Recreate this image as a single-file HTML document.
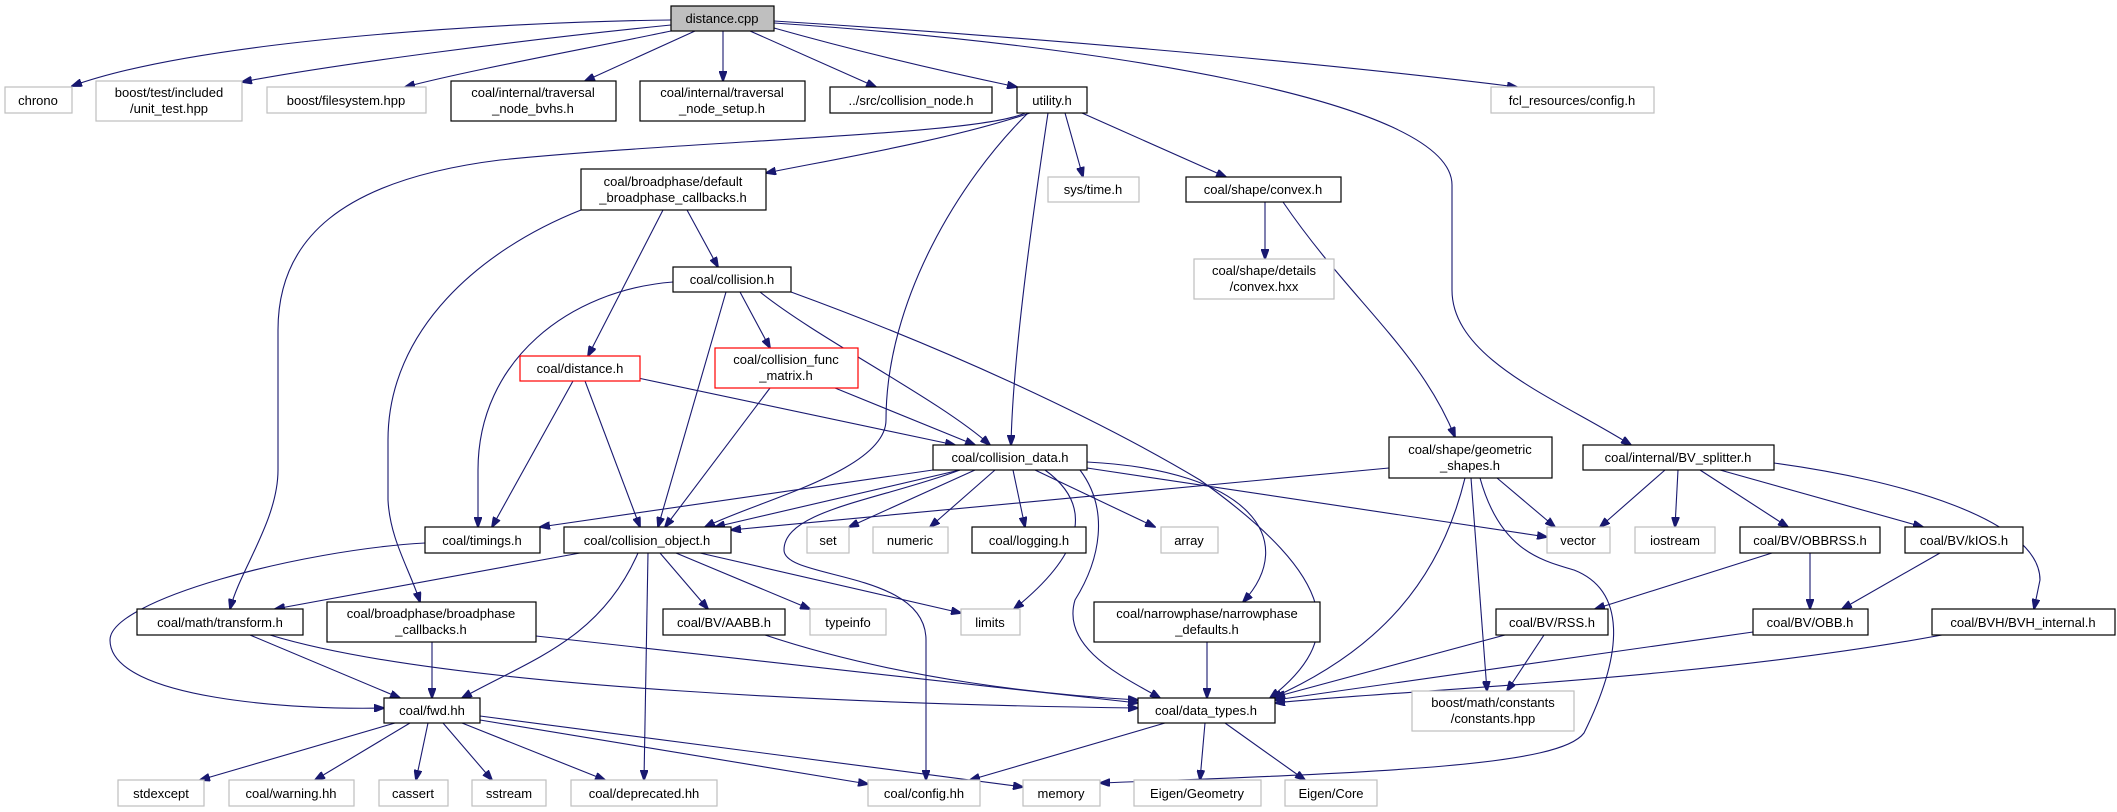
<!DOCTYPE html>
<html><head><meta charset="utf-8"><style>
html,body{margin:0;padding:0;background:#fff;}
svg{display:block;}
text{font-family:"Liberation Sans",sans-serif;font-size:13px;fill:#000;text-anchor:middle;}
.e{fill:none;stroke:#191970;stroke-width:1.1;marker-end:url(#a);}
.b{fill:#fff;stroke:#000;stroke-width:1.2;}
.g{fill:#fff;stroke:#bfbfbf;stroke-width:1.2;}
.r{fill:#fff;stroke:#ff0000;stroke-width:1.2;}
.gt{fill:#000;}
</style></head><body>
<svg width="2117" height="812" viewBox="0 0 2117 812" xmlns="http://www.w3.org/2000/svg">
<defs><marker id="a" markerWidth="11" markerHeight="8" refX="10" refY="4" orient="auto" markerUnits="userSpaceOnUse"><path d="M0,0 L11,4 L0,8 z" fill="#191970" stroke="#191970"/></marker></defs>
<g>
<path class="e" d="M671,20 C500,22 200,40 72,86"/>
<path class="e" d="M671,25 C520,40 330,65 242,82"/>
<path class="e" d="M671,31 C580,50 470,70 405,87"/>
<path class="e" d="M695,31 L585,81"/>
<path class="e" d="M723,31 L723,81"/>
<path class="e" d="M750,31 L876,87"/>
<path class="e" d="M774,28 C870,55 960,75 1017,87"/>
<path class="e" d="M774,21 C1000,35 1300,60 1517,87"/>
<path class="e" d="M774,23 C1100,45 1452,100 1452,185 L1452,290 C1452,360 1560,400 1631,445"/>
<path class="e" d="M1025,113 C980,135 700,140 500,160 C340,180 278,240 278,330 L278,470 C278,520 240,570 230,609"/>
<path class="e" d="M1030,113 C950,140 830,160 766,173"/>
<path class="e" d="M1028,113 C960,180 886,300 886,420 C886,470 760,500 705,527"/>
<path class="e" d="M1048,113 C1035,200 1013,350 1011,445"/>
<path class="e" d="M1065,113 L1083,177"/>
<path class="e" d="M1082,113 L1226,177"/>
<path class="e" d="M663,210 L588,356"/>
<path class="e" d="M687,210 L718,267"/>
<path class="e" d="M581,210 C480,250 388,330 388,440 L388,500 C390,540 410,570 420,602"/>
<path class="e" d="M673,282 C570,290 478,360 478,470 L478,527"/>
<path class="e" d="M726,292 L658,527"/>
<path class="e" d="M740,292 L770,348"/>
<path class="e" d="M760,292 C820,340 940,400 990,445"/>
<path class="e" d="M791,292 C950,350 1100,420 1200,480 C1340,580 1345,640 1270,698"/>
<path class="e" d="M573,381 L492,527"/>
<path class="e" d="M585,381 L640,527"/>
<path class="e" d="M638,378 L955,445"/>
<path class="e" d="M770,388 L665,527"/>
<path class="e" d="M835,388 L975,445"/>
<path class="e" d="M1265,202 L1265,259"/>
<path class="e" d="M1283,202 C1350,300 1420,350 1455,437"/>
<path class="e" d="M933,470 L540,527"/>
<path class="e" d="M960,470 L715,527"/>
<path class="e" d="M975,470 L849,527"/>
<path class="e" d="M995,470 L930,527"/>
<path class="e" d="M1013,470 L1025,527"/>
<path class="e" d="M1035,470 L1155,527"/>
<path class="e" d="M1045,470 C1100,510 1075,560 1014,609"/>
<path class="e" d="M1087,462 C1250,470 1300,540 1243,602"/>
<path class="e" d="M1087,468 L1547,537"/>
<path class="e" d="M960,470 C880,500 784,510 784,550 C784,580 926,570 926,640 L926,780"/>
<path class="e" d="M1080,470 C1110,510 1100,560 1075,600 C1060,650 1130,680 1160,698"/>
<path class="e" d="M580,553 L275,609"/>
<path class="e" d="M638,553 C600,640 530,660 462,698"/>
<path class="e" d="M648,553 L644,780"/>
<path class="e" d="M660,553 L708,609"/>
<path class="e" d="M676,553 L810,609"/>
<path class="e" d="M700,553 L961,613"/>
<path class="e" d="M425,543 C300,550 110,600 110,640 C110,700 300,710 384,708"/>
<path class="e" d="M250,635 L400,698"/>
<path class="e" d="M270,635 C450,690 900,705 1138,708"/>
<path class="e" d="M432,642 L432,698"/>
<path class="e" d="M536,636 L1138,703"/>
<path class="e" d="M765,635 C900,680 1050,695 1138,700"/>
<path class="e" d="M1207,642 L1207,698"/>
<path class="e" d="M1389,468 L731,530"/>
<path class="e" d="M1465,478 C1440,580 1380,650 1272,698"/>
<path class="e" d="M1497,478 L1555,527"/>
<path class="e" d="M1471,478 L1487,691"/>
<path class="e" d="M1480,478 C1500,550 1540,560 1574,570 C1625,590 1625,650 1584,733 C1560,765 1400,772 1100,783"/>
<path class="e" d="M1665,470 L1600,527"/>
<path class="e" d="M1678,470 L1675,527"/>
<path class="e" d="M1700,470 L1788,527"/>
<path class="e" d="M1720,470 L1923,527"/>
<path class="e" d="M1774,463 C1900,480 2040,520 2040,580 L2034,609"/>
<path class="e" d="M1772,553 L1595,609"/>
<path class="e" d="M1810,553 L1810,609"/>
<path class="e" d="M1940,553 L1842,609"/>
<path class="e" d="M1505,635 L1275,697"/>
<path class="e" d="M1544,635 L1507,691"/>
<path class="e" d="M1753,632 L1275,700"/>
<path class="e" d="M1942,635 C1700,680 1400,690 1275,703"/>
<path class="e" d="M395,723 L200,780"/>
<path class="e" d="M410,723 L315,780"/>
<path class="e" d="M428,723 L416,780"/>
<path class="e" d="M443,723 L492,780"/>
<path class="e" d="M462,723 L605,780"/>
<path class="e" d="M480,720 L868,784"/>
<path class="e" d="M480,716 L1023,787"/>
<path class="e" d="M1165,723 L970,780"/>
<path class="e" d="M1205,723 L1200,780"/>
<path class="e" d="M1225,723 L1305,780"/>
</g>
<g>
<rect x="671" y="6" width="103" height="25" fill="#bfbfbf" stroke="#000" stroke-width="1.2"/><text x="722" y="23">distance.cpp</text>
<rect class="g" x="5" y="87" width="67" height="26"/><text x="38" y="105">chrono</text>
<rect class="g" x="96" y="81" width="146" height="40"/><text x="169" y="97">boost/test/included</text><text x="169" y="113">/unit_test.hpp</text>
<rect class="g" x="267" y="87" width="159" height="26"/><text x="346" y="105">boost/filesystem.hpp</text>
<rect class="b" x="451" y="81" width="165" height="40"/><text x="533" y="97">coal/internal/traversal</text><text x="533" y="113">_node_bvhs.h</text>
<rect class="b" x="640" y="81" width="165" height="40"/><text x="722" y="97">coal/internal/traversal</text><text x="722" y="113">_node_setup.h</text>
<rect class="b" x="830" y="87" width="162" height="26"/><text x="911" y="105">../src/collision_node.h</text>
<rect class="b" x="1017" y="87" width="70" height="26"/><text x="1052" y="105">utility.h</text>
<rect class="g" x="1491" y="87" width="163" height="26"/><text x="1572" y="105">fcl_resources/config.h</text>
<rect class="b" x="581" y="169" width="185" height="41"/><text x="673" y="186">coal/broadphase/default</text><text x="673" y="202">_broadphase_callbacks.h</text>
<rect class="g" x="1048" y="177" width="91" height="25"/><text x="1093" y="194">sys/time.h</text>
<rect class="b" x="1186" y="177" width="155" height="25"/><text x="1263" y="194">coal/shape/convex.h</text>
<rect class="b" x="673" y="267" width="118" height="25"/><text x="732" y="284">coal/collision.h</text>
<rect class="g" x="1194" y="259" width="140" height="40"/><text x="1264" y="275">coal/shape/details</text><text x="1264" y="291">/convex.hxx</text>
<rect class="r" x="520" y="356" width="120" height="25"/><text x="580" y="373">coal/distance.h</text>
<rect class="r" x="715" y="348" width="143" height="40"/><text x="786" y="364">coal/collision_func</text><text x="786" y="380">_matrix.h</text>
<rect class="b" x="933" y="445" width="154" height="25"/><text x="1010" y="462">coal/collision_data.h</text>
<rect class="b" x="1389" y="437" width="163" height="41"/><text x="1470" y="454">coal/shape/geometric</text><text x="1470" y="470">_shapes.h</text>
<rect class="b" x="1583" y="445" width="191" height="25"/><text x="1678" y="462">coal/internal/BV_splitter.h</text>
<rect class="b" x="425" y="527" width="115" height="26"/><text x="482" y="545">coal/timings.h</text>
<rect class="b" x="564" y="527" width="167" height="26"/><text x="647" y="545">coal/collision_object.h</text>
<rect class="g" x="807" y="527" width="42" height="26"/><text x="828" y="545">set</text>
<rect class="g" x="873" y="527" width="75" height="26"/><text x="910" y="545">numeric</text>
<rect class="b" x="972" y="527" width="114" height="26"/><text x="1029" y="545">coal/logging.h</text>
<rect class="g" x="1161" y="527" width="57" height="26"/><text x="1189" y="545">array</text>
<rect class="g" x="1547" y="527" width="63" height="26"/><text x="1578" y="545">vector</text>
<rect class="g" x="1635" y="527" width="80" height="26"/><text x="1675" y="545">iostream</text>
<rect class="b" x="1740" y="527" width="140" height="26"/><text x="1810" y="545">coal/BV/OBBRSS.h</text>
<rect class="b" x="1905" y="527" width="118" height="26"/><text x="1964" y="545">coal/BV/kIOS.h</text>
<rect class="b" x="137" y="609" width="166" height="26"/><text x="220" y="627">coal/math/transform.h</text>
<rect class="b" x="327" y="602" width="209" height="40"/><text x="431" y="618">coal/broadphase/broadphase</text><text x="431" y="634">_callbacks.h</text>
<rect class="b" x="663" y="609" width="122" height="26"/><text x="724" y="627">coal/BV/AABB.h</text>
<rect class="g" x="810" y="609" width="76" height="26"/><text x="848" y="627">typeinfo</text>
<rect class="g" x="961" y="609" width="59" height="26"/><text x="990" y="627">limits</text>
<rect class="b" x="1094" y="602" width="226" height="40"/><text x="1207" y="618">coal/narrowphase/narrowphase</text><text x="1207" y="634">_defaults.h</text>
<rect class="b" x="1496" y="609" width="112" height="26"/><text x="1552" y="627">coal/BV/RSS.h</text>
<rect class="b" x="1753" y="609" width="115" height="26"/><text x="1810" y="627">coal/BV/OBB.h</text>
<rect class="b" x="1932" y="609" width="183" height="26"/><text x="2023" y="627">coal/BVH/BVH_internal.h</text>
<rect class="b" x="384" y="698" width="96" height="25"/><text x="432" y="715">coal/fwd.hh</text>
<rect class="b" x="1138" y="698" width="137" height="25"/><text x="1206" y="715">coal/data_types.h</text>
<rect class="g" x="1412" y="691" width="162" height="40"/><text x="1493" y="707">boost/math/constants</text><text x="1493" y="723">/constants.hpp</text>
<rect class="g" x="118" y="780" width="86" height="26"/><text x="161" y="798">stdexcept</text>
<rect class="g" x="229" y="780" width="125" height="26"/><text x="291" y="798">coal/warning.hh</text>
<rect class="g" x="379" y="780" width="69" height="26"/><text x="413" y="798">cassert</text>
<rect class="g" x="472" y="780" width="74" height="26"/><text x="509" y="798">sstream</text>
<rect class="g" x="571" y="780" width="146" height="26"/><text x="644" y="798">coal/deprecated.hh</text>
<rect class="g" x="868" y="780" width="112" height="26"/><text x="924" y="798">coal/config.hh</text>
<rect class="g" x="1023" y="780" width="77" height="26"/><text x="1061" y="798">memory</text>
<rect class="g" x="1134" y="780" width="127" height="26"/><text x="1197" y="798">Eigen/Geometry</text>
<rect class="g" x="1285" y="780" width="92" height="26"/><text x="1331" y="798">Eigen/Core</text>
</g>
</svg>
</body></html>
